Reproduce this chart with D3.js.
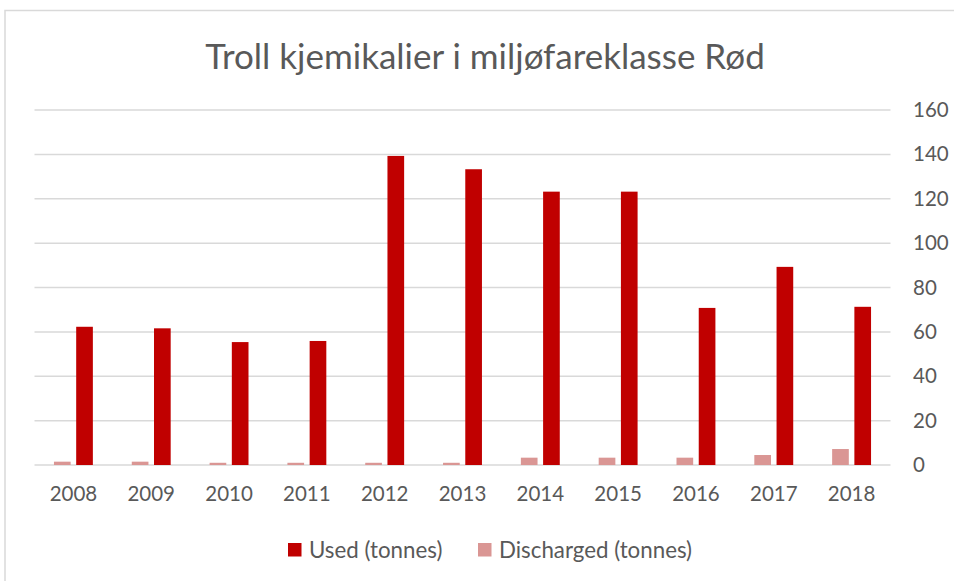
<!DOCTYPE html>
<html>
<head>
<meta charset="utf-8">
<script src="https://cdn.jsdelivr.net/npm/d3@7"></script>
<style>
  body { margin: 0; background: #fff; }
  text { font-family: Lato, 'Open Sans', sans-serif; fill: #595959; }
</style>
</head>
<body>
<svg id="chart" width="954" height="581"></svg>
<script>
// data
var years = ['2008', '2009', '2010', '2011', '2012', '2013', '2014', '2015', '2016', '2017', '2018'];
var used = [62.3, 61.6, 55.4, 55.9, 139.3, 133.3, 123.2, 123.2, 70.8, 89.3, 71.3];
var discharged = [1.5, 1.5, 1.0, 1.0, 1.0, 1.0, 3.3, 3.3, 3.3, 4.5, 7.2];
var yTicks = [0, 20, 40, 60, 80, 100, 120, 140, 160];
var seriesNames = ['Discharged (tonnes)', 'Used (tonnes)'];
var seriesColors = ['#da9694', '#c00000'];

var svg = d3.select('#chart');

// chart area border (only left and top edges fall in the picture)
svg.append('path')
  .attr('d', 'M5,581V10.5H954')
  .attr('fill', 'none')
  .attr('stroke', '#d9d9d9')
  .attr('stroke-width', 1.5);

// scales
var x = d3.scaleBand().domain(years).range([34.5, 890.5]).paddingInner(0.5).paddingOuter(0.25);
var xSub = d3.scaleBand().domain([0, 1]).range([0, x.bandwidth()]).paddingInner(0.25);
var y = d3.scaleLinear().domain([0, 160]).range([465, 110]);

// title
svg.append('text')
  .attr('x', 485)
  .attr('y', 69)
  .attr('text-anchor', 'middle')
  .style('font-size', '35px')
  .text('Troll kjemikalier i miljøfareklasse Rød');

// gridlines
svg.append('g')
  .selectAll('line')
  .data(yTicks)
  .enter()
  .append('line')
    .attr('x1', 34.5)
    .attr('x2', 890.5)
    .attr('y1', function(d) { return y(d); })
    .attr('y2', function(d) { return y(d); })
    .attr('stroke', '#d9d9d9')
    .attr('stroke-width', 1.5);

// right axis labels
var yAxis = svg.append('g')
  .attr('transform', 'translate(902,0)')
  .call(d3.axisRight(y).tickValues(yTicks).tickSize(0).tickPadding(11));
yAxis.select('.domain').remove();
yAxis.selectAll('text')
  .attr('fill', null)
  .style('font-size', '20.5px');

// bottom axis labels
var xAxis = svg.append('g')
  .attr('transform', 'translate(0,465)')
  .call(d3.axisBottom(x).tickSize(0).tickPadding(21));
xAxis.select('.domain').remove();
xAxis.selectAll('text')
  .attr('fill', null)
  .style('font-size', '20.5px');

// bars
var groups = svg.append('g')
  .selectAll('g')
  .data(years)
  .enter()
  .append('g')
    .attr('transform', function(d) { return 'translate(' + x(d) + ',0)'; });

groups.append('rect')
  .attr('x', xSub(0))
  .attr('width', xSub.bandwidth())
  .attr('y', function(d, i) { return y(discharged[i]); })
  .attr('height', function(d, i) { return y(0) - y(discharged[i]); })
  .attr('fill', seriesColors[0]);

groups.append('rect')
  .attr('x', xSub(1))
  .attr('width', xSub.bandwidth())
  .attr('y', function(d, i) { return y(used[i]); })
  .attr('height', function(d, i) { return y(0) - y(used[i]); })
  .attr('fill', seriesColors[1]);

// legend
var legend = svg.append('g');
var lx = 288;
[1, 0].forEach(function(k) {
  legend.append('rect')
    .attr('x', lx)
    .attr('y', 543)
    .attr('width', 13.5)
    .attr('height', 13.5)
    .attr('fill', seriesColors[k]);
  legend.append('text')
    .attr('x', lx + 21)
    .attr('y', 558)
    .style('font-size', '22.3px')
    .text(seriesNames[k]);
  lx = 478;
});
</script>
</body>
</html>
